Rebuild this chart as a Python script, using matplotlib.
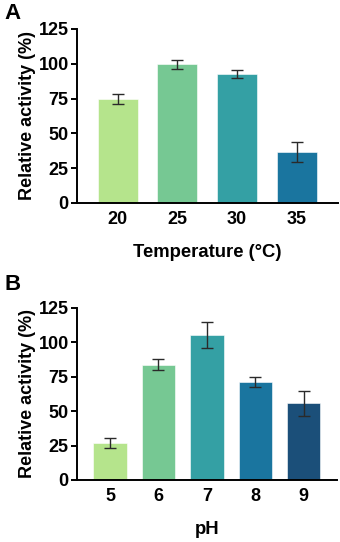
import matplotlib
matplotlib.use("Agg")
import matplotlib.pyplot as plt

plt.rcParams['font.family'] = ['Liberation Sans', 'DejaVu Sans']
plt.rcParams['font.weight'] = 'bold'

temp_labels = ["20", "25", "30", "35"]
temp_values = [74.8, 99.5, 92.6, 36.8]
temp_errors = [3.8, 3.5, 2.9, 7.2]
temp_colors = ["#b5e48c", "#76c893", "#34a0a4", "#1a759f"]

ph_labels = ["5", "6", "7", "8", "9"]
ph_values = [26.9, 83.8, 105.2, 71.2, 55.8]
ph_errors = [3.4, 4.0, 9.5, 3.9, 9.1]
ph_colors = ["#b5e48c", "#76c893", "#34a0a4", "#1a759f", "#1b4f79"]

yticks = [0, 25, 50, 75, 100, 125]

fig = plt.figure(figsize=(3.4, 5.42), dpi=100)
axA = fig.add_axes([0.2265, 0.6255, 0.768, 0.321])
axB = fig.add_axes([0.2265, 0.1144, 0.765, 0.3175])

def style(ax, labels, values, errors, colors, xlabel, width):
    x = list(range(len(labels)))
    ax.bar(x, values, width=width, color=colors, edgecolor='white', linewidth=0.4, zorder=2)
    ax.errorbar(x, values, yerr=errors, fmt='none', ecolor='#2a2a2a', elinewidth=1.0,
                capsize=4, capthick=1.0, zorder=3)
    ax.set_ylim(0, 125)
    ax.set_yticks(yticks)
    ax.set_xticks(x)
    ax.set_xticklabels(labels)
    ax.set_xlim(-0.68, len(labels) - 1 + 0.69)
    for s in ['top', 'right']:
        ax.spines[s].set_visible(False)
    for s in ['left', 'bottom']:
        ax.spines[s].set_linewidth(1.4)
        ax.spines[s].set_color('black')
    ax.tick_params(axis='y', direction='out', length=4, width=1.4, labelsize=13, pad=2)
    ax.tick_params(axis='x', direction='in', length=4, width=1.4, labelsize=13, pad=6)
    for lab in ax.get_xticklabels() + ax.get_yticklabels():
        lab.set_fontweight('bold')
    ax.set_ylabel("Relative activity (%)", fontsize=13, fontweight='bold', labelpad=2)
    ax.set_xlabel(xlabel, fontsize=13.3, fontweight='bold', labelpad=11)

style(axA, temp_labels, temp_values, temp_errors, temp_colors, "Temperature (°C)", 0.667)
style(axB, ph_labels, ph_values, ph_errors, ph_colors, "pH", 0.69)

fig.text(0.012, 0.995, "A", fontsize=16, fontweight='bold', va='top', ha='left')
fig.text(0.012, 0.495, "B", fontsize=16, fontweight='bold', va='top', ha='left')

fig.savefig("out.png", dpi=100)
